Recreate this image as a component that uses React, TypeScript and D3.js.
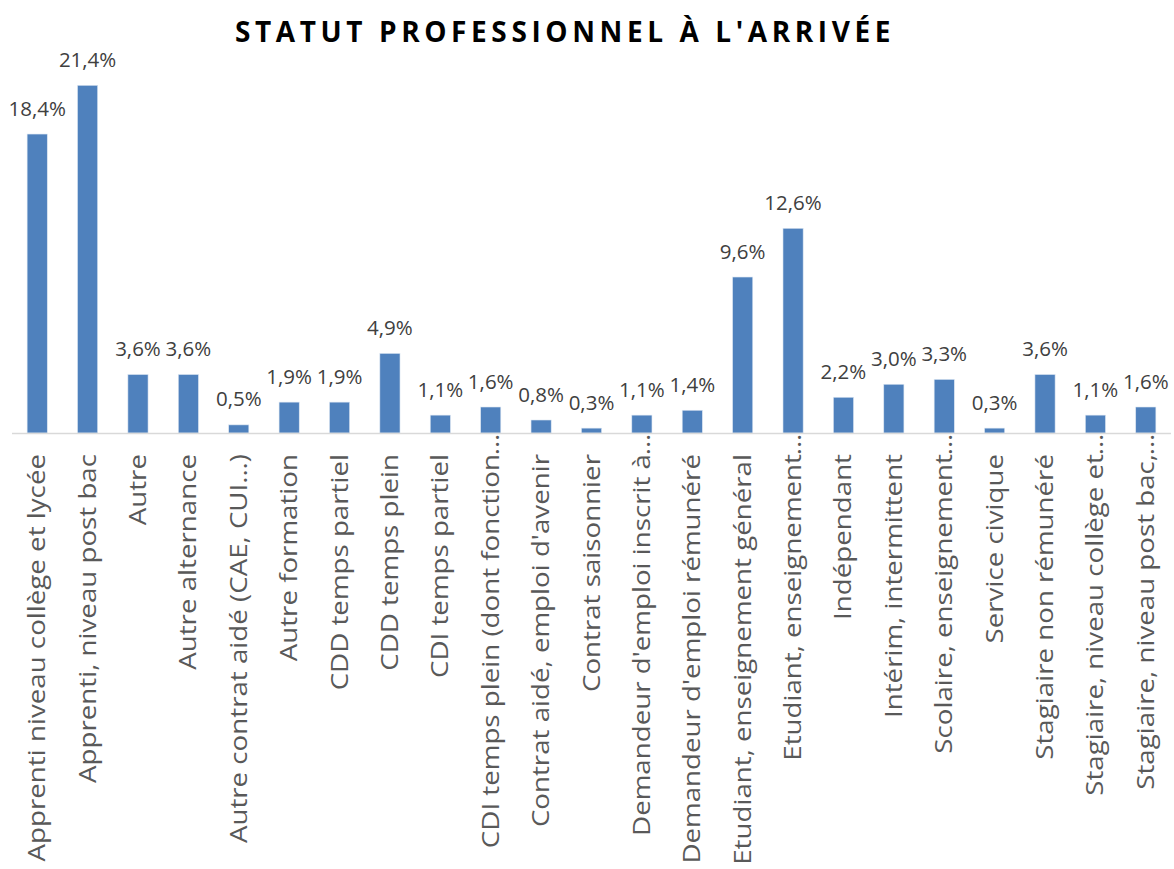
import React from "react";
import * as d3 from "d3";

const categories = [
  "Apprenti niveau collège et lycée",
  "Apprenti, niveau post bac",
  "Autre",
  "Autre alternance",
  "Autre contrat aidé (CAE, CUI…)",
  "Autre formation",
  "CDD temps partiel",
  "CDD temps plein",
  "CDI temps partiel",
  "CDI temps plein (dont fonction…",
  "Contrat aidé, emploi d'avenir",
  "Contrat saisonnier",
  "Demandeur d'emploi inscrit à…",
  "Demandeur d'emploi rémunéré",
  "Etudiant, enseignement général",
  "Etudiant, enseignement…",
  "Indépendant",
  "Intérim, intermittent",
  "Scolaire, enseignement…",
  "Service civique",
  "Stagiaire non rémunéré",
  "Stagiaire, niveau collège et…",
  "Stagiaire, niveau post bac,…",
];

const values = [
  18.4, 21.4, 3.6, 3.6, 0.5, 1.9, 1.9, 4.9, 1.1, 1.6, 0.8, 0.3, 1.1, 1.4, 9.6,
  12.6, 2.2, 3.0, 3.3, 0.3, 3.6, 1.1, 1.6,
];

const title = "STATUT PROFESSIONNEL À L'ARRIVÉE";

const W = 1174;
const H = 869;
const FONT = "'Open Sans', sans-serif";

const fmt = (v: number) => v.toFixed(1).replace(".", ",") + "%";

export default function App() {
  const svgRef = React.useRef<SVGSVGElement>(null);

  React.useEffect(() => {
    const svg = d3.select(svgRef.current);
    svg.selectAll("*").remove();

    const left = 12;
    const right = 1171;
    const baseY = 433;
    const labelTop = 454;

    const x = d3
      .scaleBand()
      .domain(categories)
      .range([left, right])
      .paddingInner(0.6)
      .paddingOuter(0.3);

    const y = d3.scaleLinear().domain([0, 21.4]).range([baseY, 85.3]);

    const data = categories.map((c, i) => ({ label: c, value: values[i] }));

    svg
      .append("text")
      .attr("x", 565)
      .attr("y", 42)
      .attr("text-anchor", "middle")
      .attr("font-family", FONT)
      .attr("font-weight", 700)
      .attr("font-size", 28)
      .attr("letter-spacing", 4.6)
      .attr("fill", "#000")
      .text(title);

    svg
      .selectAll(".bar")
      .data(data)
      .enter()
      .append("rect")
      .attr("class", "bar")
      .attr("x", (d) => x(d.label)!)
      .attr("y", (d) => y(d.value))
      .attr("width", x.bandwidth())
      .attr("height", (d) => baseY - y(d.value))
      .attr("fill", "#4F81BD")
      .attr("stroke", "#DCE6F2")
      .attr("stroke-width", 0.6);

    svg
      .append("line")
      .attr("x1", left)
      .attr("x2", right)
      .attr("y1", baseY + 0.5)
      .attr("y2", baseY + 0.5)
      .attr("stroke", "#D9D9D9")
      .attr("stroke-width", 1.5);

    svg
      .selectAll(".val")
      .data(data)
      .enter()
      .append("text")
      .attr("class", "val")
      .attr("x", (d) => x(d.label)! + x.bandwidth() / 2)
      .attr("y", (d) => y(d.value) - 18.5)
      .attr("text-anchor", "middle")
      .attr("font-family", FONT)
      .attr("font-size", 20.5)
      .attr("fill", "#404040")
      .text((d) => fmt(d.value));

    // category labels: truncated ones (ending in "…") keep their text end at
    // labelTop and let the ellipsis stick out toward the axis, like Excel does
    const cat = svg
      .selectAll(".cat")
      .data(data)
      .enter()
      .append("g")
      .attr("class", "cat")
      .attr(
        "transform",
        (d) =>
          `translate(${x(d.label)! + x.bandwidth() / 2 + 8},${labelTop}) rotate(-90) scale(1.205,1)`
      )
      .attr("font-family", FONT)
      .attr("font-size", 23)
      .attr("fill", "#595959");

    const truncated = (s: string) => s.endsWith("…") && !s.endsWith("…)");

    cat
      .append("text")
      .attr("text-anchor", "end")
      .text((d) => (truncated(d.label) ? d.label.slice(0, -1) : d.label));

    cat
      .filter((d) => truncated(d.label))
      .append("text")
      .attr("x", -1)
      .attr("text-anchor", "start")
      .text("…");
  }, []);

  return (
    <svg
      ref={svgRef}
      width={W}
      height={H}
      style={{ position: "absolute", left: 0, top: 0, background: "#fff" }}
    ></svg>
  );
}
